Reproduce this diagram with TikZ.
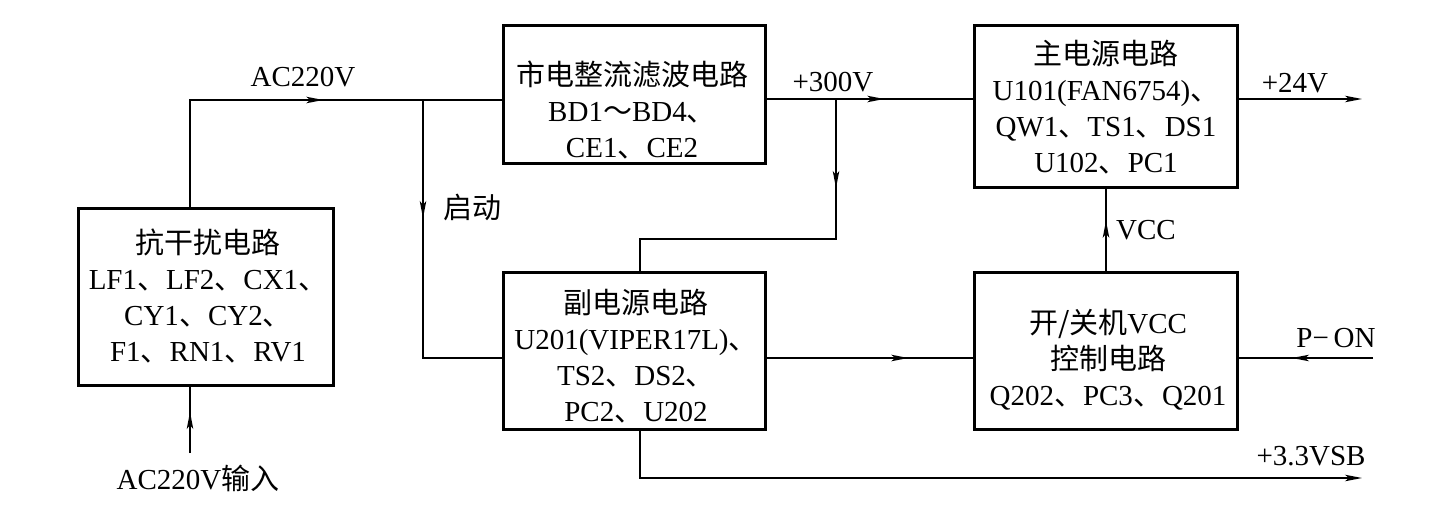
\documentclass[tikz,border=0pt]{standalone}
\usepackage{fontspec}
\setmainfont{Liberation Serif}
\newfontfamily\cjk{Noto Sans CJK SC}
\usetikzlibrary{arrows.meta,decorations.markings}
\newcommand\dun{{\cjk 、}}
\begin{document}
\begin{tikzpicture}[x=1pt,y=-1pt,
  >={Stealth[length=17pt,width=6.5pt,inset=4pt]},
  blk/.style={draw,line width=3.5pt,inner sep=0pt},
  txt/.style={font=\fontsize{29}{36}\selectfont,align=center,inner sep=0pt},
  lab/.style={font=\fontsize{29}{36}\selectfont,inner sep=0pt},
  wire/.style={line width=1.4pt},
  midarr/.style={postaction={decorate,decoration={markings,mark=at position #1 with {\arrow{>}}}}}]
\useasboundingbox (0,0) rectangle (1431,505);
% boxes
\node[blk,minimum width=255pt,minimum height=177pt] (A) at (206,297) {};
\node[blk,minimum width=262pt,minimum height=138pt] (B) at (634.5,94.5) {};
\node[blk,minimum width=263pt,minimum height=162pt] (C) at (1106,106.5) {};
\node[blk,minimum width=262pt,minimum height=157pt] (D) at (634.5,351) {};
\node[blk,minimum width=263pt,minimum height=157pt] (E) at (1106,351) {};
% box texts
\node[txt] (At) at (208,296) {{\cjk 抗干扰电路}\\LF1\dun LF2\dun CX1\dun\\CY1\dun CY2\dun\\F1\dun RN1\dun RV1};
\node[txt] (Bt) at (632,110) {{\cjk 市电整流滤波电路}\\BD1{\cjk ～}BD4\dun\\CE1\dun CE2};
\node[txt] (Ct) at (1106,107.5) {{\cjk 主电源电路}\\U101(FAN6754)\dun\\QW1\dun TS1\dun DS1\\U102\dun PC1};
\node[txt] (Dt) at (636,356) {{\cjk 副电源电路}\\U201(VIPER17L)\dun\\TS2\dun DS2\dun\\PC2\dun U202};
\node[txt] (Et) at (1108,360) {{\cjk 开/关机}VCC\\{\cjk 控制电路}\\Q202\dun PC3\dun Q201};
% coordinates
\coordinate (ac) at (190,100);
\coordinate (st) at (423,100);
\coordinate (dy) at (423,358);
\coordinate (in) at (190,453);
\coordinate (p3) at (836,99);
\coordinate (p3b) at (836,239);
\coordinate (p3c) at (640,239);
\coordinate (o24) at (1362,99);
\coordinate (pon) at (1373,358);
\coordinate (sb) at (640,478);
\coordinate (sbe) at (1362,478);
% connectors
\draw[wire,midarr=240pt] (ac |- A.north) -- (ac) -- (B.west |- ac);
\draw[wire,midarr=118pt] (st) -- (dy) -- (D.west |- dy);
\draw[wire,midarr=41pt] (in) -- (in |- A.south);
\draw[wire,midarr=117pt] (B.east |- p3) -- (C.west |- p3);
\draw[wire,midarr=89pt] (p3) -- (p3b) -- (p3c) -- (p3c |- D.north);
\draw[wire,->] (C.east |- o24) -- (o24);
\draw[wire,midarr=50pt] (E.north) -- (C.south);
\draw[wire,midarr=141pt] (D.east |- dy) -- (E.west |- dy);
\draw[wire,midarr=81pt] (pon) -- (E.east |- pon);
\draw[wire,->] (p3c |- D.south) -- (sb) -- (sbe);
% labels
\node[lab] (l1) at (303,77) {AC220V};
\node[lab] (l2) at (472,207) {\cjk 启动};
\node[lab] (l3) at (198,478) {AC220V{\cjk 输入}};
\node[lab] (l4) at (833,82) {+300V};
\node[lab] (l5) at (1295,83) {+24V};
\node[lab] (l6) at (1146,230) {VCC};
\node[lab] (l7) at (1336,338) {P−\,ON};
\node[lab] (l8) at (1311,456) {+3.3VSB};
\end{tikzpicture}
\end{document}
